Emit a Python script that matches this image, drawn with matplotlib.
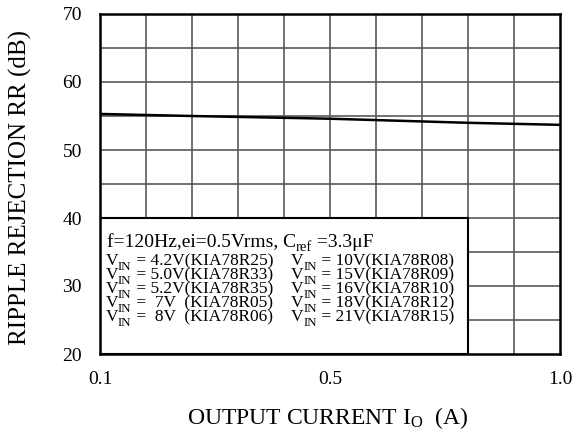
import matplotlib
matplotlib.use("Agg")
import matplotlib.pyplot as plt
from matplotlib.patches import Rectangle
from matplotlib.transforms import offset_copy

plt.rcParams['font.family'] = ['Liberation Serif', 'DejaVu Serif']
plt.rcParams['mathtext.fontset'] = 'custom'
plt.rcParams['mathtext.rm'] = 'Liberation Serif'
plt.rcParams['mathtext.it'] = 'Liberation Serif:italic'

# x axis: 10 equal divisions labelled 0.1 ... 1.0
x_tick_pos = [0, 5, 10]
x_tick_labels = ["0.1", "0.5", "1.0"]
y_ticks = [20, 30, 40, 50, 60, 70]

# ripple rejection curve (division index, dB)
curve_x = [0, 2, 5, 8, 10]
curve_y = [55.3, 55.0, 54.6, 54.0, 53.7]

# legend rows: (main, subscript, rest)
legend_title = [("f=120Hz,ei=0.5Vrms, C", "ref", " =3.3μF")]
legend_col1 = [("V", "IN", " = 4.2V(KIA78R25)"),
               ("V", "IN", " = 5.0V(KIA78R33)"),
               ("V", "IN", " = 5.2V(KIA78R35)"),
               ("V", "IN", " =  7V  (KIA78R05)"),
               ("V", "IN", " =  8V  (KIA78R06)")]
legend_col2 = [("V", "IN", " = 10V(KIA78R08)"),
               ("V", "IN", " = 15V(KIA78R09)"),
               ("V", "IN", " = 16V(KIA78R10)"),
               ("V", "IN", " = 18V(KIA78R12)"),
               ("V", "IN", " = 21V(KIA78R15)")]

fig = plt.figure(figsize=(5.73, 4.4), dpi=100)
ax = fig.add_axes([100/573, 1-354/440, 460/573, 340/440])
ax.set_xlim(0, 10)
ax.set_ylim(20, 70)
renderer = fig.canvas.get_renderer()

# grid
for xv in range(1, 10):
    ax.axvline(xv, color='#5a5a5a', lw=1.2, zorder=1)
for yv in range(25, 70, 5):
    ax.axhline(yv, color='#5a5a5a', lw=1.2, zorder=1)

ax.plot(curve_x, curve_y, color='black', lw=1.8, zorder=3)

# legend box
ax.add_patch(Rectangle((0, 20), 8, 20, facecolor='white', edgecolor='black',
                       lw=1.5, zorder=4))

FS = 12.5
SUB_FS = 9.3


def sub_text(x, y, parts, fs=FS, sfs=SUB_FS, drop=5):
    main, sub, rest = parts
    dx = 0.0
    for txt, size, dy in ((main, fs, 0), (sub, sfs, -drop), (rest, fs, 0)):
        tr = offset_copy(ax.transData, fig=fig, x=dx, y=dy, units='dots')
        t = ax.text(x, y, txt, fontsize=size, va='baseline', ha='left',
                    transform=tr, zorder=5)
        bb = t.get_window_extent(renderer)
        dx += bb.width


sub_text(0.15, 35.7, legend_title[0], fs=14.0, sfs=10.5, drop=4)
row_y = [33.1, 31.0, 28.9, 26.85, 24.8]
for yv, p1, p2 in zip(row_y, legend_col1, legend_col2):
    sub_text(0.12, yv, p1)
    sub_text(4.15, yv, p2)

ax.set_xticks(x_tick_pos)
ax.set_xticklabels(x_tick_labels)
ax.set_yticks(y_ticks)
ax.tick_params(length=0, labelsize=14)
ax.tick_params(axis='y', pad=13)
ax.tick_params(axis='x', pad=12)
for s in ax.spines.values():
    s.set_linewidth(1.8)
    s.set_zorder(6)

fig.text(328/573, 1-418/440, r"OUTPUT CURRENT I$_{\mathrm{O}}$  (A)", fontsize=17,
         ha='center', va='center')
fig.text(20/573, 1-187/440, "RIPPLE REJECTION RR (dB)", fontsize=18,
         ha='center', va='center', rotation=90)

fig.savefig("out.png", dpi=100)
